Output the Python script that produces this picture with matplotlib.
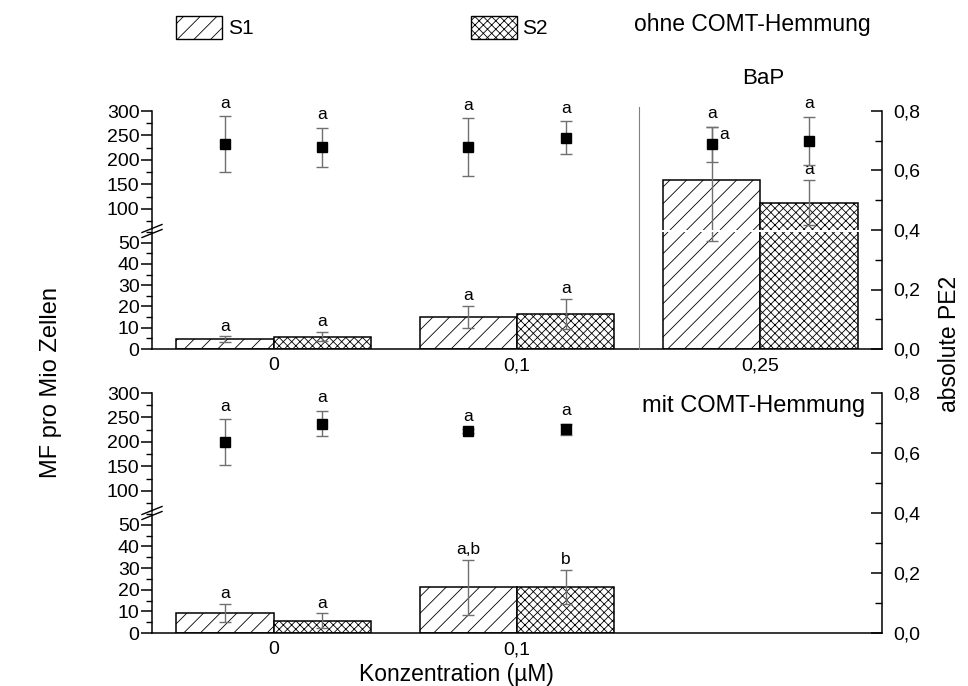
import numpy as np
import matplotlib
matplotlib.use("Agg")
import matplotlib.pyplot as plt
from matplotlib.patches import Rectangle
from matplotlib.lines import Line2D
from matplotlib.ticker import MultipleLocator, FuncFormatter

plt.rcParams['font.family'] = ['Liberation Sans', 'DejaVu Sans']
plt.rcParams['hatch.linewidth'] = 0.6

# --- Daten -------------------------------------------------------------
konz_ohne = ['0', '0,1', '0,25']
konz_mit = ['0', '0,1']

# MF pro Mio Zellen (Balken)
mf_s1_ohne = [4.7, 15.2, 159]
mf_s1_ohne_err = [1.2, 5.2, 108]
mf_s2_ohne = [5.8, 16.5, 113]
mf_s2_ohne_err = [2.1, 7.0, 46]

mf_s1_mit = [9.1, 21.2]
mf_s1_mit_err = [4.2, 12.7]
mf_s2_mit = [5.7, 21.4]
mf_s2_mit_err = [3.4, 7.9]

# absolute PE2 (Punkte)
pe_s1_ohne = [0.689, 0.678, 0.688]
pe_s1_ohne_err = [0.094, 0.098, 0.059]
pe_s2_ohne = [0.678, 0.710, 0.699]
pe_s2_ohne_err = [0.065, 0.056, 0.081]

pe_s1_mit = [0.636, 0.673]
pe_s1_mit_err = [0.077, 0.006]
pe_s2_mit = [0.698, 0.679]
pe_s2_mit_err = [0.042, 0.018]

# Signifikanz-Buchstaben
bst_mf_s1_ohne = ['a', 'a', 'a']
bst_mf_s2_ohne = ['a', 'a', 'a']
bst_pe_s1_ohne = ['a', 'a', 'a']
bst_pe_s2_ohne = ['a', 'a', 'a']
bst_mf_s1_mit = ['a', 'a,b']
bst_mf_s2_mit = ['a', 'b']
bst_pe_s1_mit = ['a', 'a']
bst_pe_s2_mit = ['a', 'a']

# --- Layout (Pixel) ----------------------------------------------------
W, H = 968, 686
L, R = 152, 882
grau = '#707070'


def fx(x):
    return x / W


def fy(y):
    return 1 - y / H


def px_box(left, top, right, bottom):
    return [left / W, 1 - bottom / H, (right - left) / W, (bottom - top) / H]


komma1 = FuncFormatter(lambda v, p: ('%.1f' % v).replace('.', ','))


def draw_panel(fig, top, bottom, xlabels, mf1, mf1_err, mf2, mf2_err,
               pe1, pe1_err, pe2, pe2_err, b_mf1, b_mf2, b_pe1, b_pe2,
               off_mf1=None):
    x = np.arange(len(mf1))
    split = top + 119
    ax_up = fig.add_axes(px_box(L, top, R, split))
    ax_lo = fig.add_axes(px_box(L, split + 2, R, bottom))
    ax_pe = fig.add_axes(px_box(L, top, R, bottom))
    ax_pe.patch.set_visible(False)

    for ax in (ax_up, ax_lo):
        ax.bar(x - 0.2, mf1, 0.4, facecolor='white', edgecolor='black',
               hatch='//', lw=1.1, zorder=2)
        ax.bar(x + 0.2, mf2, 0.4, facecolor='white', edgecolor='black',
               hatch='xxxx', lw=1.1, zorder=2)
        ax.errorbar(x - 0.2, mf1, yerr=mf1_err, fmt='none', ecolor=grau,
                    elinewidth=1, capsize=4, capthick=1, zorder=3)
        ax.errorbar(x + 0.2, mf2, yerr=mf2_err, fmt='none', ecolor=grau,
                    elinewidth=1, capsize=4, capthick=1, zorder=3)
        ax.set_xlim(-0.5, 2.5)
        for s in ('top', 'right'):
            ax.spines[s].set_visible(False)
        ax.spines['left'].set_linewidth(1.1)
        ax.spines['bottom'].set_linewidth(1.1)
        ax.tick_params(axis='y', which='major', direction='out', length=8,
                       width=1.1, pad=1, labelsize=14)
        ax.tick_params(axis='y', which='minor', direction='out', length=4,
                       width=1.0)

    ax_up.set_ylim(57, 300)
    ax_up.yaxis.set_major_locator(MultipleLocator(50))
    ax_up.yaxis.set_minor_locator(MultipleLocator(25))
    ax_up.spines['bottom'].set_visible(False)
    ax_up.set_xticks([])

    ax_lo.set_ylim(0, 55)
    ax_lo.yaxis.set_major_locator(MultipleLocator(10))
    ax_lo.yaxis.set_minor_locator(MultipleLocator(5))
    ax_lo.set_xticks(x)
    ax_lo.set_xticklabels(xlabels)
    ax_lo.tick_params(axis='x', length=0, pad=6, labelsize=14)

    # Buchstaben ueber den Balken
    if off_mf1 is None:
        off_mf1 = [(0, 0)] * len(mf1)
    for xs, vals, errs, bst, offs in (
            (x - 0.2, mf1, mf1_err, b_mf1, off_mf1),
            (x + 0.2, mf2, mf2_err, b_mf2, [(0, 0)] * len(mf2))):
        for xi, v, e, t, (dx, dy) in zip(xs, vals, errs, bst, offs):
            ob = v + e
            ax = ax_up if ob > 55 else ax_lo
            ax.annotate(t, (xi, ob), xytext=(dx, 2 + dy),
                        textcoords='offset points', ha='center',
                        va='bottom', fontsize=12.5)

    # PE2 (rechte Achse)
    ax_pe.errorbar(x - 0.2, pe1, yerr=pe1_err, fmt='s', color='black',
                   ms=7.5, ecolor=grau, elinewidth=1, capsize=4, capthick=1)
    ax_pe.errorbar(x + 0.2, pe2, yerr=pe2_err, fmt='s', color='black',
                   ms=7.5, ecolor=grau, elinewidth=1, capsize=4, capthick=1)
    for xs, vals, errs, bst in ((x - 0.2, pe1, pe1_err, b_pe1),
                                (x + 0.2, pe2, pe2_err, b_pe2)):
        for xi, v, e, t in zip(xs, vals, errs, bst):
            ax_pe.annotate(t, (xi, v + e), xytext=(0, 4),
                           textcoords='offset points', ha='center',
                           va='bottom', fontsize=12.5)
    ax_pe.set_xlim(-0.5, 2.5)
    ax_pe.set_ylim(0, 0.8)
    for s in ('top', 'left', 'bottom'):
        ax_pe.spines[s].set_visible(False)
    ax_pe.spines['right'].set_linewidth(1.1)
    ax_pe.set_xticks([])
    ax_pe.yaxis.tick_right()
    ax_pe.yaxis.set_major_locator(MultipleLocator(0.2))
    ax_pe.yaxis.set_minor_locator(MultipleLocator(0.1))
    ax_pe.yaxis.set_major_formatter(komma1)
    ax_pe.tick_params(axis='y', which='major', direction='in', length=8,
                      width=1.1, pad=8, labelsize=14)
    ax_pe.tick_params(axis='y', which='minor', direction='in', length=5,
                      width=1.0)

    # Achsenbruch-Markierung
    by = split + 1
    for off in (-2.5, 2.5):
        fig.add_artist(Line2D([fx(142), fx(162)],
                              [fy(by + 4 + off), fy(by - 4 + off)],
                              color='black', lw=1))
    return ax_pe


fig = plt.figure(figsize=(W / 100, H / 100), dpi=100)

ax_pe_ohne = draw_panel(fig, 111, 349, konz_ohne,
                        mf_s1_ohne, mf_s1_ohne_err, mf_s2_ohne, mf_s2_ohne_err,
                        pe_s1_ohne, pe_s1_ohne_err, pe_s2_ohne, pe_s2_ohne_err,
                        bst_mf_s1_ohne, bst_mf_s2_ohne,
                        bst_pe_s1_ohne, bst_pe_s2_ohne,
                        off_mf1=[(0, 0), (0, 0), (9, -13)])
# Trennlinie BaP
ax_pe_ohne.plot([1.5, 1.5], [0, 0.813], color='#808080', lw=0.8,
                clip_on=False)

draw_panel(fig, 393, 633, konz_mit,
           mf_s1_mit, mf_s1_mit_err, mf_s2_mit, mf_s2_mit_err,
           pe_s1_mit, pe_s1_mit_err, pe_s2_mit, pe_s2_mit_err,
           bst_mf_s1_mit, bst_mf_s2_mit, bst_pe_s1_mit, bst_pe_s2_mit)

# Legende oben
fig.add_artist(Rectangle((fx(176), fy(39)), 46 / W, 23 / H,
                         transform=fig.transFigure, facecolor='white',
                         edgecolor='black', hatch='//', lw=1))
fig.text(fx(228), fy(28), 'S1', va='center', fontsize=15)
fig.add_artist(Rectangle((fx(471), fy(39)), 46 / W, 23 / H,
                         transform=fig.transFigure, facecolor='white',
                         edgecolor='black', hatch='xxxx', lw=1))
fig.text(fx(522), fy(28), 'S2', va='center', fontsize=15)
fig.text(fx(634), fy(25), 'ohne COMT-Hemmung', va='center', fontsize=16.5)

fig.text(fx(763), fy(78), 'BaP', ha='center', va='center', fontsize=16)
fig.text(fx(865), fy(406), 'mit COMT-Hemmung', ha='right', va='center',
         fontsize=17)

fig.text(fx(51), fy(382), 'MF pro Mio Zellen', rotation=90, ha='center',
         va='center', fontsize=17)
fig.text(fx(950), fy(344), 'absolute PE2', rotation=90, ha='center',
         va='center', fontsize=16.5)
fig.text(fx(456), fy(675), 'Konzentration (µM)', ha='center', va='center',
         fontsize=16.5)

fig.savefig('out.png', dpi=100, facecolor='white')
